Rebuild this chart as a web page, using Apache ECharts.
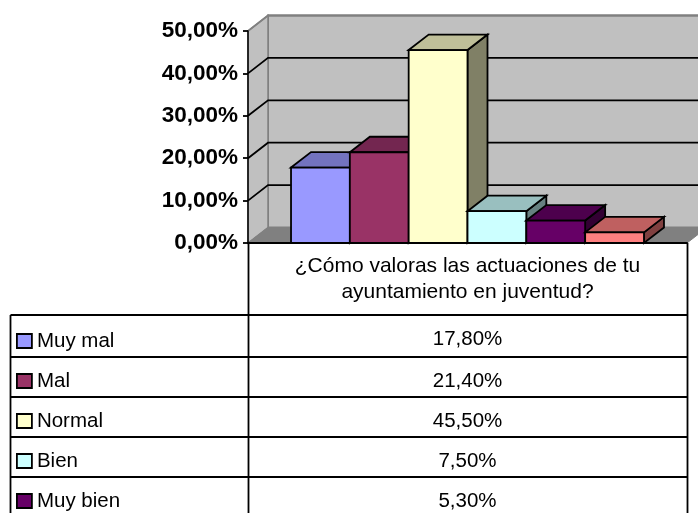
<!DOCTYPE html>
<html><head><meta charset="utf-8">
<style>html,body{margin:0;padding:0;background:#fff;overflow:hidden}#c{width:698px;height:513px}</style>
<script src="https://cdn.jsdelivr.net/npm/echarts@6/dist/echarts.min.js"></script>
</head><body><div id="c"></div>
<script>
const question = "¿Cómo valoras las actuaciones de tu\nayuntamiento en juventud?";
const categories = ["Muy mal", "Mal", "Normal", "Bien", "Muy bien", "Ns/Nc"];
const values = [17.8, 21.4, 45.5, 7.5, 5.3, 2.5];
const colors = ["#9999FF", "#993366", "#FFFFCC", "#CCFFFF", "#660066", "#FF8080"];
const topColors = ["#7373BF", "#732650", "#BFBF99", "#99BFBF", "#4D004D", "#BF6060"];
const sideColors = ["#4D4D80", "#4D1A33", "#808066", "#668080", "#330033", "#804040"];
const ticks = [0, 10, 20, 30, 40, 50];
const fontFamily = '"Liberation Sans", Arial, sans-serif';
const DX = 20, DY = -15.5, LW = 1.8, BAR_SHARE = 0.134;

function pct(v) { return v.toFixed(2).replace(".", ",") + "%"; }
function poly(points, fill, stroke, lw) {
  return { type: "polygon", shape: { points }, style: { fill, stroke: stroke || "#000", lineWidth: lw === undefined ? LW : lw } };
}
function wallItem(params, api) {
  const cs = params.coordSys, t = api.value(1);
  const y = api.coord([0, t])[1], x0 = cs.x, x1 = cs.x + cs.width;
  const children = [];
  if (t === 0) {
    const top = cs.y, bot = cs.y + cs.height;
    children.push(poly([[x0 + DX, top + DY], [x1 + DX, top + DY], [x1 + DX, bot + DY], [x0 + DX, bot + DY]], "#C0C0C0", "#808080", 2));
    children.push(poly([[x0, top], [x0 + DX, top + DY], [x0 + DX, bot + DY], [x0, bot]], "#C0C0C0", "#808080", 1.5));
    children.push(poly([[x0, bot], [x0 + DX, bot + DY], [x1 + DX, bot + DY], [x1, bot]], "#808080", "#808080", 1));
  } else {
    const stroke = t === ticks[ticks.length - 1] ? "#808080" : "#000";
    children.push({ type: "polyline", shape: { points: [[x0, y], [x0 + DX, y + DY], [x1 + DX, y + DY]] }, style: { fill: null, stroke, lineWidth: LW } });
  }
  return { type: "group", children };
}
function barRenderer(i) {
  return function (params, api) {
    const base = api.coord([0, 0]), tip = api.coord([0, api.value(1)]);
    const w = api.size([1, 0])[0] * BAR_SHARE;
    const l = base[0] - w * categories.length / 2 + i * w, r = l + w, b = base[1], t = tip[1];
    return { type: "group", children: [
      poly([[r, t], [r + DX, t + DY], [r + DX, b + DY], [r, b]], sideColors[i]),
      poly([[l, t], [l + DX, t + DY], [r + DX, t + DY], [r, t]], topColors[i]),
      poly([[l, t], [r, t], [r, b], [l, b]], colors[i])
    ] };
  };
}

const rowTops = [315, 357, 397, 437, 477];
const tableLeft = 10.5, axisX = 248.5, tableRight = 687.5, tableBottom = 513, plotBottom = 243;
const line = (x1, y1, x2, y2) => ({ type: "line", shape: { x1, y1, x2, y2 }, style: { stroke: "#000", lineWidth: LW }, z: 20 });
const graphics = [line(axisX, plotBottom, axisX, tableBottom), line(tableRight, plotBottom, tableRight, tableBottom), line(tableLeft, rowTops[0], tableLeft, tableBottom)];
rowTops.forEach((y, k) => {
  graphics.push(line(tableLeft, y, tableRight, y));
  graphics.push({ type: "text", x: 467.5, y: y + 24.5, z: 20, style: { text: pct(values[k]), align: "center", verticalAlign: "middle", font: "20.5px " + fontFamily, fill: "#000" } });
});

const series = [{ type: "custom", name: "walls", silent: true, z: 1, data: ticks.map(t => [0, t]), renderItem: wallItem, encode: { x: 0, y: 1 } }];
categories.forEach((name, i) => series.push({
  type: "custom", name, z: 2 + i, silent: true, data: [[0, values[i]]], renderItem: barRenderer(i),
  encode: { x: 0, y: 1 }, itemStyle: { color: colors[i] }
}));

const chart = echarts.init(document.getElementById("c"), null, { renderer: "canvas" });
chart.setOption({
  animation: false,
  backgroundColor: "#fff",
  grid: { left: 248, right: 11, top: 31, bottom: 270, containLabel: false },
  xAxis: { type: "category", data: [question], z: 15,
    axisLine: { lineStyle: { color: "#000", width: 2 } }, axisTick: { show: false },
    axisLabel: { color: "#000", fontFamily, fontSize: 21, lineHeight: 26, margin: 10, align: "center" } },
  yAxis: { type: "value", min: 0, max: 50, interval: 10, z: 15,
    axisLine: { show: true, lineStyle: { color: "#000", width: 1.5 } },
    axisTick: { show: true, length: 5, lineStyle: { color: "#000", width: 1.8 } },
    splitLine: { show: false },
    axisLabel: { color: "#000", fontFamily, fontSize: 22.5, fontWeight: "bold", margin: 10, formatter: v => pct(v) } },
  legend: { orient: "vertical", left: 16, top: 330, height: 200, itemWidth: 15, itemHeight: 14, itemGap: 18, padding: 0, icon: "rect", selectedMode: false,
    data: categories.slice(0, 5),
    itemStyle: { borderColor: "#000", borderWidth: 1.8 },
    textStyle: { color: "#000", fontFamily, fontSize: 20.5, lineHeight: 22 } },
  graphic: graphics,
  series
});
</script></body></html>
